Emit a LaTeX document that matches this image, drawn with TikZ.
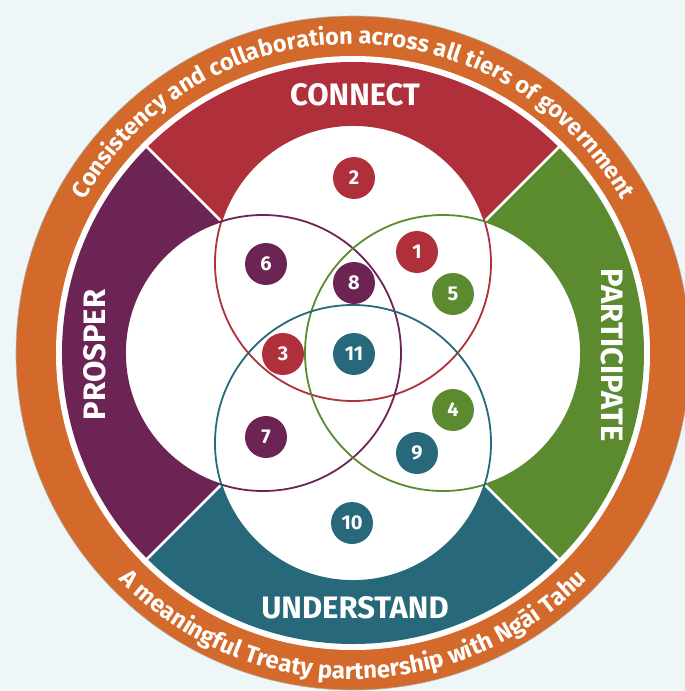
\documentclass[tikz,border=0pt]{standalone}
\usepackage{fontspec}
\setmainfont{Fira Sans}
\usetikzlibrary{decorations.text}
\definecolor{cred}{HTML}{AF2F3B}
\definecolor{cpurple}{HTML}{6C2455}
\definecolor{cgreen}{HTML}{5C8B2F}
\definecolor{cteal}{HTML}{27697A}
\definecolor{corange}{HTML}{D3692A}
\definecolor{cbg}{HTML}{EEF6F8}
\begin{document}
\begin{tikzpicture}[x=1pt,y=1pt,
  badge/.style={circle, minimum size=42pt, inner sep=0pt, text=white, font=\fontsize{20}{20}\selectfont\bfseries},
  band/.style={text=white, inner sep=0pt, font=\fontsize{31}{31}\selectfont\bfseries},
  venn/.style={line width=1.8pt},
  divider/.style={white, line width=2.5pt}]
\useasboundingbox[fill=cbg] (-353,-338) rectangle (332,353);
% outer orange ring
\fill[corange] (0,0) circle[radius=337pt];
\draw[black!30, line width=0.6pt] (0,0) circle[radius=337pt];
\fill[white] (0,0) circle[radius=297pt];
% coloured sectors
\fill[cred] (0,0) -- (45:291pt) arc[start angle=45, end angle=135, radius=291pt] -- cycle;
\fill[cpurple] (0,0) -- (135:291pt) arc[start angle=135, end angle=225, radius=291pt] -- cycle;
\fill[cteal] (0,0) -- (225:291pt) arc[start angle=225, end angle=315, radius=291pt] -- cycle;
\fill[cgreen] (0,0) -- (-45:291pt) arc[start angle=-45, end angle=45, radius=291pt] -- cycle;
% white inner union
\fill[white] (0,90) circle[radius=138pt] (-90,0) circle[radius=138pt]
  (90,0) circle[radius=138pt] (0,-90) circle[radius=138pt];
% dividers
\foreach \a in {45,135,225,315} \draw[divider] (\a:186pt) -- (\a:294pt);
% venn outlines
\draw[venn, cred] (0,90) circle[radius=138pt];
\draw[venn, cpurple] (-90,0) circle[radius=138pt];
\draw[venn, cgreen] (90,0) circle[radius=138pt];
\draw[venn, cteal] (0,-90) circle[radius=138pt];
% curved texts
\path[decorate, decoration={text along path, text align=center, text color=white,
  text={|\fontsize{23.5}{23.5}\selectfont\bfseries|Consistency and collaboration across all tiers of government}}]
  (180:309pt) arc[start angle=180, end angle=0, radius=309pt];
\path[decorate, decoration={text along path, text align=center, text color=white,
  text={|\fontsize{24}{24}\selectfont\bfseries|A meaningful Treaty partnership with Ngāi Tahu}}]
  (190:326pt) arc[start angle=190, end angle=350, radius=326pt];
% band labels
\node[band] (connect) at (2,258) {CONNECT};
\node[band, rotate=90] (prosper) at (-258,-2) {PROSPER};
\node[band, rotate=-90] (participate) at (259,-2) {PARTICIPATE};
\node[band] (understand) at (2,-255) {UNDERSTAND};
% badges
\node[badge, fill=cred] (n2) at (1,175) {2};
\node[badge, fill=cpurple] (n6) at (-87,89) {6};
\node[badge, fill=cred] (n1) at (64,101) {1};
\node[badge, fill=cpurple] (n8) at (1,70) {8};
\node[badge, fill=cgreen] (n5) at (100,59) {5};
\node[badge, fill=cred] (n3) at (-70,-1) {3};
\node[badge, fill=cteal] (n11) at (1,-1) {11};
\node[badge, fill=cgreen] (n4) at (100,-57) {4};
\node[badge, fill=cpurple] (n7) at (-87,-84) {7};
\node[badge, fill=cteal] (n9) at (64,-100) {9};
\node[badge, fill=cteal] (n10) at (-1,-170) {10};
\end{tikzpicture}
\end{document}
